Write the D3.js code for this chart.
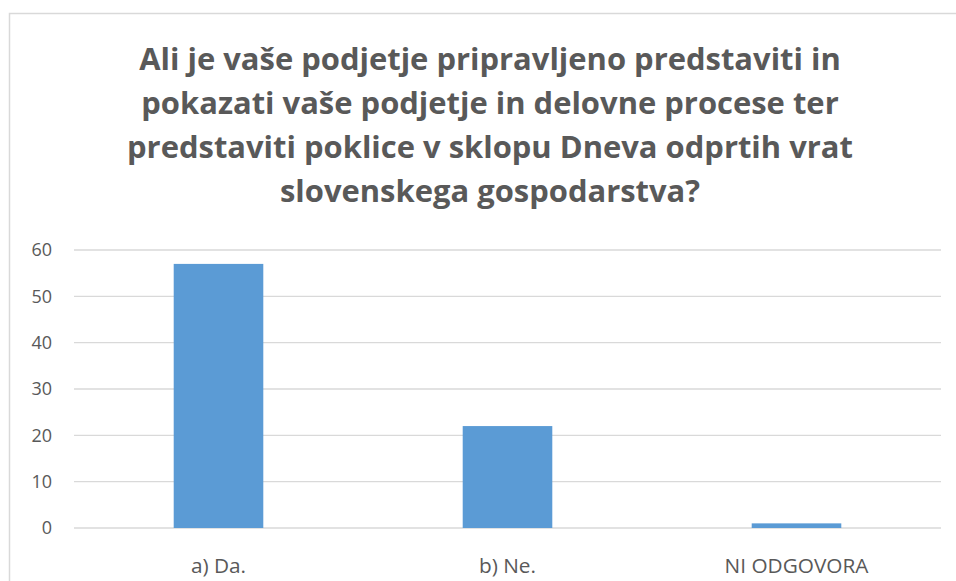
<!DOCTYPE html>
<html><head><meta charset="utf-8">
<script src="https://cdn.jsdelivr.net/npm/d3@7"></script>
<style>body{margin:0;background:#fff}svg{display:block}</style>
</head><body>
<script>
const titleLines = [
  "Ali je vaše podjetje pripravljeno predstaviti in",
  "pokazati vaše podjetje in delovne procese ter",
  "predstaviti poklice v sklopu Dneva odprtih vrat",
  "slovenskega gospodarstva?"
];
const categories = ["a) Da.", "b) Ne.", "NI ODGOVORA"];
const values = [57, 22, 1];
const yTicks = [0, 10, 20, 30, 40, 50, 60];

const W = 956, H = 581;
const font = "'Open Sans', 'Liberation Sans', sans-serif";
const svg = d3.select("body").append("svg").attr("width", W).attr("height", H);

svg.append("rect").attr("x", 9.5).attr("y", 13.5).attr("width", 1000).attr("height", 1000)
  .attr("fill", "none").attr("stroke", "#d9d9d9").attr("stroke-width", 1.5);

const x = d3.scaleBand().domain(categories).range([74, 941]).paddingInner(0.69).paddingOuter(0.345);
const y = d3.scaleLinear().domain([0, 60]).range([528, 250]);

svg.append("g").selectAll("line").data(yTicks).join("line")
  .attr("x1", 74).attr("x2", 941)
  .attr("y1", d => y(d)).attr("y2", d => y(d))
  .attr("stroke", "#d9d9d9").attr("stroke-width", 1.3);

svg.append("g").selectAll("rect").data(values).join("rect")
  .attr("x", (d, i) => x(categories[i]))
  .attr("width", x.bandwidth())
  .attr("y", d => y(d))
  .attr("height", d => y(0) - y(d))
  .attr("fill", "#5b9bd5");

svg.append("g").selectAll("text").data(yTicks).join("text")
  .attr("x", 52).attr("y", d => y(d)).attr("dy", "0.35em")
  .attr("text-anchor", "end").attr("font-family", font).attr("font-size", 18)
  .attr("fill", "#595959").text(d => d);

const cat = svg.append("g").selectAll("text").data(categories).join("text")
  .attr("x", d => x(d) + x.bandwidth() / 2).attr("y", 566)
  .attr("dy", "0.35em")
  .attr("text-anchor", "middle").attr("font-family", font).attr("font-size", 17)
  .attr("fill", "#595959").text(d => d);
{
  const w = cat.nodes()[2].getComputedTextLength();
  cat.attr("font-size", 17 * 144 / w);
}

const tt = svg.append("g").selectAll("text").data(titleLines).join("text")
  .attr("x", 490).attr("y", (d, i) => 70 + i * 44)
  .attr("text-anchor", "middle").attr("font-family", font).attr("font-size", 28)
  .attr("font-weight", "bold").attr("fill", "#595959").text(d => d);
{
  const w = tt.nodes()[0].getComputedTextLength();
  tt.attr("font-size", 28 * 702 / w);
}
</script>
</body></html>
